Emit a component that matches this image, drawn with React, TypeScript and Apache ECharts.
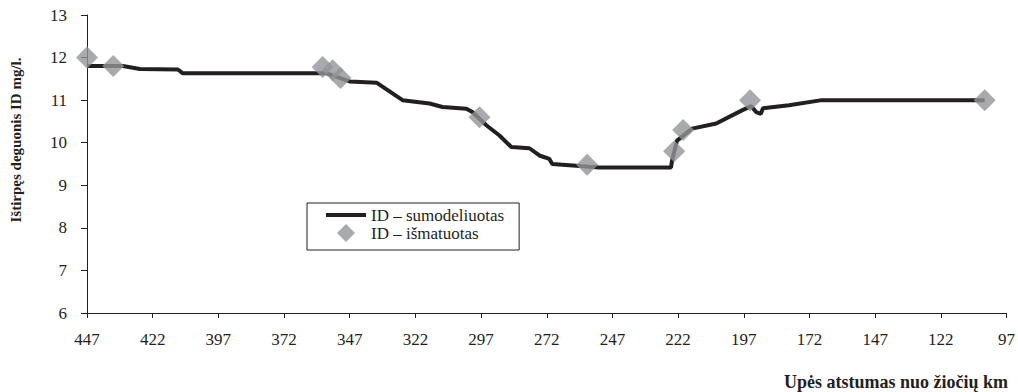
import React, { useEffect, useRef } from "react";
import * as echarts from "echarts";

const modelKm = [447, 433.3, 426.9, 412.4, 410.5, 355.8, 347.0, 336.8, 326.9, 316.6, 311.7, 302.6, 300.3, 295.0, 290.0, 285.5, 278.6, 274.8, 271.0, 269.9, 260.8, 252.0, 224.7, 224.3, 222.4, 216.7, 207.5, 197.7, 194.2, 192.3, 190.5, 189.7, 179.8, 167.3, 105.3];
const modelVal = [11.8, 11.8, 11.73, 11.72, 11.63, 11.63, 11.44, 11.41, 11.0, 10.92, 10.84, 10.8, 10.72, 10.41, 10.17, 9.9, 9.87, 9.7, 9.62, 9.5, 9.46, 9.42, 9.42, 9.58, 10.05, 10.33, 10.45, 10.76, 10.86, 10.72, 10.68, 10.81, 10.88, 11.0, 11.0];

const measuredKm = [447, 437.0, 357.3, 353.5, 350.5, 297.6, 256.6, 223.5, 220.1, 194.6, 105.3];
const measuredVal = [12.0, 11.8, 11.78, 11.7, 11.52, 10.6, 9.48, 9.8, 10.3, 11.0, 11.0];

const modelName = "ID – sumodeliuotas";
const measuredName = "ID – išmatuotas";
const yTitle = "Ištirpęs deguonis ID mg/l.";
const xTitle = "Upės atstumas nuo žiočių km";

const FONT = "'Liberation Serif', 'DejaVu Serif', serif";
const INK = "#231f20";
const GREY = "#939598";

export default function App() {
  const ref = useRef<HTMLDivElement>(null);
  useEffect(() => {
    if (!ref.current) return;
    const chart = echarts.init(ref.current, undefined, { renderer: "svg" });
    chart.setOption({
      animation: false,
      textStyle: { fontFamily: FONT, color: INK },
      grid: { left: 87, right: 10, top: 15, bottom: 79, containLabel: false },
      xAxis: {
        type: "value",
        inverse: true,
        min: 97,
        max: 447,
        interval: 25,
        axisLine: { show: true, lineStyle: { color: INK, width: 1 } },
        axisTick: { show: true, length: 5, lineStyle: { color: INK } },
        axisLabel: { color: INK, fontFamily: FONT, fontSize: 17, margin: 18 },
        splitLine: { show: false },
      },
      yAxis: {
        type: "value",
        min: 6,
        max: 13,
        interval: 1,
        axisLine: { show: true, lineStyle: { color: INK, width: 1 } },
        axisTick: { show: true, length: 6, lineStyle: { color: INK } },
        axisLabel: { color: INK, fontFamily: FONT, fontSize: 17, margin: 20 },
        splitLine: { show: false },
      },
      legend: {
        orient: "vertical",
        left: 307,
        top: 203,
        padding: [3, 15, 8, 19],
        itemWidth: 40,
        itemHeight: 18,
        itemGap: 0,
        symbolKeepAspect: true,
        borderColor: INK,
        borderWidth: 1,
        textStyle: { fontFamily: FONT, fontSize: 17, color: INK, lineHeight: 18 },
        data: [
          { name: modelName, icon: "path://M0,0H40V4H0Z" },
          { name: measuredName, icon: "path://M9,0L18,9L9,18L0,9Z" },
        ],
      },
      graphic: [
        {
          type: "text",
          x: 16,
          y: 140,
          rotation: Math.PI / 2,
          style: {
            text: yTitle,
            font: `bold 15px ${FONT}`,
            fill: INK,
            align: "center",
            verticalAlign: "middle",
          },
        },
        {
          type: "text",
          x: 1008,
          y: 382,
          style: {
            text: xTitle,
            font: `bold 18px ${FONT}`,
            fill: INK,
            align: "right",
            verticalAlign: "middle",
          },
        },
      ],
      series: [
        {
          name: modelName,
          type: "line",
          data: modelKm.map((k, i) => [k, modelVal[i]]),
          symbol: "none",
          lineStyle: { color: INK, width: 4 },
          itemStyle: { color: INK },
          z: 2,
        },
        {
          name: measuredName,
          type: "scatter",
          data: measuredKm.map((k, i) => [k, measuredVal[i]]),
          symbol: "diamond",
          symbolSize: 22,
          itemStyle: { color: GREY },
          z: 3,
        },
      ],
    });
    return () => chart.dispose();
  }, []);
  return (
    <div
      ref={ref}
      style={{ position: "fixed", left: 0, top: 0, width: 1018, height: 392, background: "#fff" }}
    />
  );
}
